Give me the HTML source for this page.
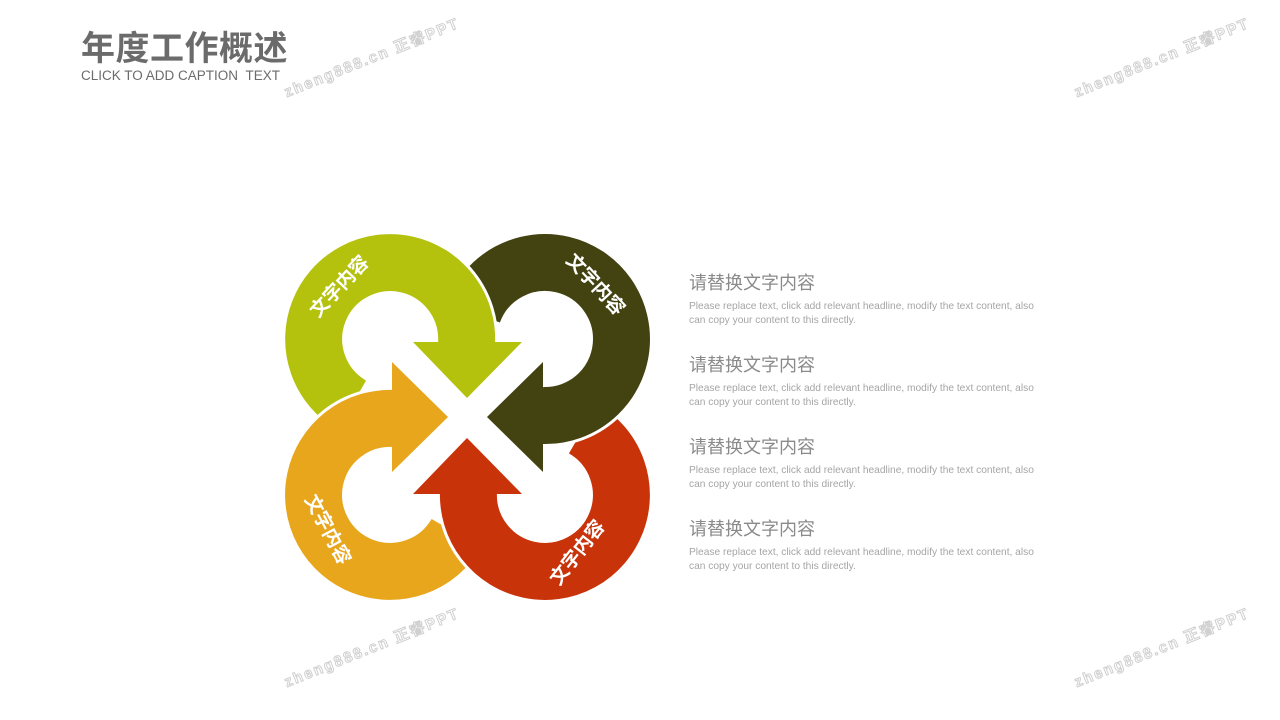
<!DOCTYPE html>
<html><head><meta charset="utf-8"><style>
body{margin:0;width:1280px;height:720px;background:#fff;overflow:hidden;position:relative;font-family:"Liberation Sans","Noto Sans CJK SC",sans-serif}
.t{position:absolute;left:81px;top:21px;font-size:34px;font-weight:bold;color:#6b6b6b;font-family:"Liberation Sans","Noto Sans CJK SC",sans-serif;letter-spacing:0.5px}
.c{position:absolute;left:81px;top:68px;font-size:13.5px;color:#6b6b6b}
.item{position:absolute;left:689px;width:420px}
.item h3{margin:0;font-weight:normal;font-size:18px;color:#8a8a8a;line-height:22px}
.item p{margin:6px 0 0;font-size:10.2px;color:#a5a5a5;line-height:14px}
svg{position:absolute;left:0;top:0}
</style></head><body>
<div class="t">年度工作概述</div>
<div class="c">CLICK TO ADD CAPTION &nbsp;TEXT</div>
<div class="item" style="top:272px"><h3>请替换文字内容</h3><p>Please replace text, click add relevant headline, modify the text content, also<br>can copy your content to this directly.</p></div>
<div class="item" style="top:354px"><h3>请替换文字内容</h3><p>Please replace text, click add relevant headline, modify the text content, also<br>can copy your content to this directly.</p></div>
<div class="item" style="top:436px"><h3>请替换文字内容</h3><p>Please replace text, click add relevant headline, modify the text content, also<br>can copy your content to this directly.</p></div>
<div class="item" style="top:518px"><h3>请替换文字内容</h3><p>Please replace text, click add relevant headline, modify the text content, also<br>can copy your content to this directly.</p></div>
<svg width="1280" height="720" viewBox="0 0 1280 720">
<g fill="none" stroke-linecap="butt">
<path d="M473.1 312.8 A76.5 76.5 0 1 1 545 415.5" stroke="#fff" stroke-width="63"/>
<path d="M473.1 312.8 A76.5 76.5 0 1 1 545 415.5" stroke="#434211" stroke-width="57"/>
<polygon points="543,362 543,472 487,417" fill="#434211" stroke="#fff" stroke-width="4"/>
<path d="M351.75 405.25 A76.5 76.5 0 1 1 466.5 342" stroke="#fff" stroke-width="63"/>
<polygon points="413,342 522,342 467,398" fill="#b4c20e" stroke="#fff" stroke-width="8"/>
<path d="M351.75 405.25 A76.5 76.5 0 1 1 466.5 344" stroke="#b4c20e" stroke-width="57"/>
<polygon points="413,342 522,342 467,398" fill="#b4c20e"/>
<path d="M456.25 533.25 A76.5 76.5 0 1 1 393 418.5" stroke="#fff" stroke-width="63"/>
<polygon points="392,362 392,472 448,417" fill="#e8a61c" stroke="#fff" stroke-width="8"/>
<path d="M456.25 533.25 A76.5 76.5 0 1 1 394 418.5" stroke="#e8a61c" stroke-width="57"/>
<polygon points="392,362 392,472 448,417" fill="#e8a61c"/>
<path d="M583.25 428.75 A76.5 76.5 0 1 1 468.5 492" stroke="#fff" stroke-width="63"/>
<polygon points="413,494 522,494 467,438" fill="#c8330a" stroke="#fff" stroke-width="8"/>
<path d="M583.25 428.75 A76.5 76.5 0 1 1 468.5 491" stroke="#c8330a" stroke-width="57"/>
<polygon points="413,494 522,494 467,438" fill="#c8330a"/>
<path d="M621.5 339 A76.5 76.5 0 0 1 545 415.5" stroke="#fff" stroke-width="63"/>
<polygon points="543,362 543,472 487,417" fill="#434211" stroke="#fff" stroke-width="8"/>
<path d="M621.5 339 A76.5 76.5 0 0 1 542 415.5" stroke="#434211" stroke-width="57"/>
<polygon points="543,362 543,472 487,417" fill="#434211"/>
</g>
<g fill="#fff" font-size="19" font-weight="bold" text-anchor="middle" dominant-baseline="central" font-family="Liberation Sans,Noto Sans CJK SC,sans-serif">
<text transform="translate(340,287) rotate(-47)">文字内容</text>
<text transform="translate(595,285) rotate(47)">文字内容</text>
<text transform="translate(327,530) rotate(62)">文字内容</text>
<text transform="translate(578,553) rotate(-52)">文字内容</text>
</g>
<g fill="#fff" stroke="#d0d0d0" stroke-width="1" font-size="15" font-weight="bold" text-anchor="middle" dominant-baseline="central" letter-spacing="2" font-family="Liberation Sans,Noto Sans CJK SC,sans-serif">
<text transform="translate(372,58) rotate(-22)">zheng888.cn 正睿PPT</text>
<text transform="translate(1162,58) rotate(-22)">zheng888.cn 正睿PPT</text>
<text transform="translate(372,648) rotate(-22)">zheng888.cn 正睿PPT</text>
<text transform="translate(1162,648) rotate(-22)">zheng888.cn 正睿PPT</text>
</g>
</svg>
</body></html>
